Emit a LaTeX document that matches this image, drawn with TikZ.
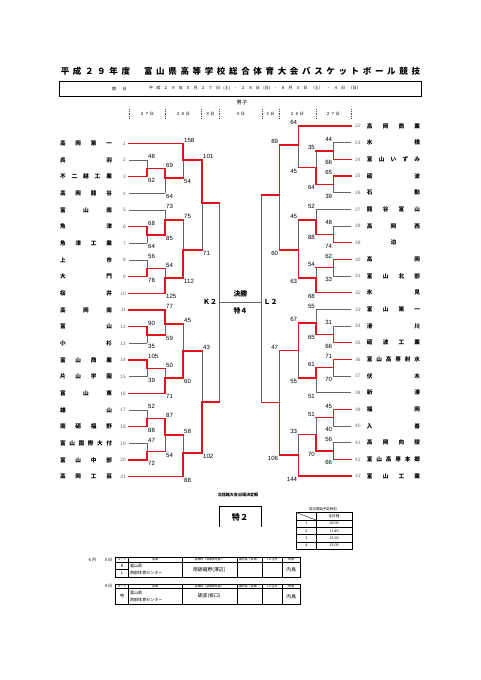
\documentclass[tikz,border=0pt]{standalone}
\usepackage{fontspec}
\setmainfont{Liberation Sans}
\newfontfamily\jp{Noto Sans CJK JP}
\newfontfamily\serifnum{Liberation Serif}
\definecolor{winred}{RGB}{228,18,26}
\definecolor{losegray}{RGB}{100,100,100}

% match lists: match/top/bottom/winner/next/top score/bottom score
\def\leftm{a1121/a1116/a1721/a1721/k2/43/102,
  a110/a14/a510/a14/k2/101/71,
  a1721/a1720/t21/t21/a1121/58/88,
  a1116/a1113/a1416/a1416/a1121/45/60,
  a510/a567/a810/a810/a110/75/112,
  a14/t1/a234/t1/a110/158/54,
  a1720/a1718/a1920/a1718/a1721/87/54,
  a1416/a1415/t16/t16/a1116/50/71,
  a1113/t11/a1213/t11/a1116/77/59,
  a810/a89/t10/t10/a510/54/125,
  a567/t5/a67/a67/a510/73/85,
  a234/a23/t4/a23/a14/69/64,
  a1920/t19/t20/t20/a1720/47/72,
  a1718/t17/t18/t18/a1720/52/88,
  a1415/t14/t15/t14/a1416/105/39,
  a1213/t12/t13/t12/a1113/90/35,
  a89/t8/t9/t9/a810/56/78,
  a67/t6/t7/t6/a567/68/64,
  a23/t2/t3/t3/a234/48/62}
\def\rightm{b3343/b3338/b3943/b3943/l2/47/106,
  b2232/b2226/b2732/b2226/l2/89/60,
  b3943/b3942/t43/t43/b3343/33/144,
  b3338/b3335/b3638/b3335/b3343/67/55,
  b2732/b2729/b3032/b3032/b2232/45/63,
  b2226/t22/b2326/t22/b2232/64/45,
  b3942/b3940/b4142/b4142/b3943/51/70,
  b3638/b3637/t38/b3637/b3338/61/51,
  b3335/t33/b3435/b3435/b3338/55/65,
  b3032/b3031/t32/t32/b2732/54/68,
  b2729/t27/b2829/b2829/b2732/52/88,
  b2326/b2324/b2526/b2526/b2226/35/64,
  b4142/t41/t42/t42/b3942/56/66,
  b3940/t39/t40/t39/b3942/45/40,
  b3637/t36/t37/t36/b3638/71/70,
  b3435/t34/t35/t35/b3335/31/66,
  b3031/t30/t31/t30/b3032/62/33,
  b2829/t28/t29/t29/b2729/48/74,
  b2526/t25/t26/t25/b2326/65/39,
  b2324/t23/t24/t24/b2326/44/66}

\begin{document}
\begin{tikzpicture}[x=1.237pt, y=-1.237pt,
  lose/.style={draw=losegray, line width=0.7pt},
  win/.style={draw=winred, line width=1.6pt, line cap=rect},
  tname/.style={font=\jp\bfseries\fontsize{7}{7}\selectfont, inner sep=0pt},
  tnum/.style={font=\fontsize{6}{6}\selectfont, text=black!60, inner sep=0pt},
  tseed/.style={font=\fontsize{6}{6}\selectfont\itshape, text=black!60, inner sep=0pt},
  score/.style={font=\fontsize{7.5}{7.5}\selectfont, inner sep=1.3pt},
  big/.style={font=\jp\bfseries\fontsize{8.5}{9}\selectfont, inner sep=0pt},
  small/.style={font=\jp\fontsize{5}{5}\selectfont, inner sep=0pt},
  tiny/.style={font=\jp\fontsize{3.6}{3.6}\selectfont, inner sep=0pt},
  sep/.style={draw=black!70, line width=0.5pt, dash pattern=on 1.2pt off 1pt},
  frame/.style={draw=black, line width=0.9pt},
  rule/.style={draw=black, line width=0.45pt}]

\useasboundingbox (0,0) rectangle (481,680);

% heading
\node[font=\jp\bfseries\fontsize{10.5}{11}\selectfont, inner sep=0pt] (ttl) at (240.4,71)
  {\makebox[85.7pt][s]{平 成 ２ ９ 年 度}\hspace{17.3pt}\makebox[341.4pt][s]{富 山 県 高 等 学 校 総 合 体 育 大 会 バ ス ケ ッ ト ボ ー ル 競 技}};
\draw[frame] (59,81) rectangle (421,96);
\node[small] (kijitsu) at (119.5,88.5) {\makebox[18pt][s]{期 日}};
\node[small] (dates) at (254.9,88.5) {\makebox[262pt][s]{平 成 ２ ９ 年 ５ 月 ２ ７ 日 (土) ・ ２ ８ 日 (日) ・ ６ 月 ３ 日 （土） ・ ４ 日 （日）}};
\node[font=\jp\fontsize{6.5}{7}\selectfont, inner sep=0pt] (boys) at (242,103) {男子};

% day row
\foreach \x in {129,165,201,219,262,279,316,351}
  \draw[sep] (\x,109) -- (\x,119);
\foreach \x/\d [count=\k] in {147/２ ７ 日,183/２ ８ 日,210/３ 日,240.4/４ 日,270/３ 日,297/２ ８ 日,333/２ ７ 日}
  \node[small] (day\k) at (\x,114) {\d};

% match points
\coordinate (a23) at (147,168.33);
\coordinate (a234) at (165,178);
\coordinate (a14) at (183,160);
\coordinate (a67) at (147,235);
\coordinate (a567) at (165,220);
\coordinate (a89) at (147,268.33);
\coordinate (a810) at (165,278);
\coordinate (a510) at (183,250);
\coordinate (a110) at (202,203);
\coordinate (a1213) at (147,335);
\coordinate (a1113) at (165,324);
\coordinate (a1415) at (147,368.33);
\coordinate (a1416) at (165,378);
\coordinate (a1116) at (183,351);
\coordinate (a1718) at (147,418.33);
\coordinate (a1920) at (147,451.67);
\coordinate (a1720) at (165,435);
\coordinate (a1721) at (183,453);
\coordinate (a1121) at (202,402);
\coordinate (k2) at (219,302);

\coordinate (b2324) at (333.3,151);
\coordinate (b2526) at (333.3,184.33);
\coordinate (b2326) at (316,167.7);
\coordinate (b2226) at (298.3,145);
\coordinate (b2829) at (333.3,234.33);
\coordinate (b2729) at (316,220);
\coordinate (b3031) at (333.3,267.67);
\coordinate (b3032) at (316,278);
\coordinate (b2732) at (298.3,250);
\coordinate (b2232) at (279.3,195);
\coordinate (b3435) at (333.3,334.33);
\coordinate (b3335) at (316,323);
\coordinate (b3637) at (333.3,367.67);
\coordinate (b3638) at (316,378);
\coordinate (b3338) at (298.3,350.5);
\coordinate (b3940) at (333.3,417.67);
\coordinate (b4142) at (333.3,451);
\coordinate (b3942) at (316,434.3);
\coordinate (b3943) at (298.3,455);
\coordinate (b3343) at (279.3,402.7);
\coordinate (l2) at (261.7,302);

% team line ends
\foreach \i in {1,...,21}
  \coordinate (t\i) at (129,{143.33+16.667*(\i-1)});
\foreach \i in {22,...,43}
  \coordinate (t\i) at (351,{126+16.667*(\i-22)});

% final
\draw[lose] (k2 |- a110) -- (k2 |- a1121);
\draw[lose] (l2 |- b2232) -- (l2 |- b3343);
\draw[lose] (k2) -- (l2);
\node[big] (kk) at (210,302) {Ｋ２};
\node[big] (ll) at (270.5,302) {Ｌ２};
\node[big] (fin) at (240.4,293.5) {決勝};
\node[big] (toku4) at (240.4,311) {特４};

% left bracket
\foreach \m/\tp/\bt/\w/\nx/\st/\sb in \leftm {
  \draw[lose] (\m |- \tp) -- (\m |- \bt);
  \draw[win] (\m |- \w) -- (\m) -- (\m -| \nx);
  \node[score, anchor=south west] (st\m) at (\m |- \tp) {\st};
  \node[score, anchor=north west] (sb\m) at (\m |- \bt) {\sb};
}
% right bracket
\foreach \m/\tp/\bt/\w/\nx/\st/\sb in \rightm {
  \draw[lose] (\m |- \tp) -- (\m |- \bt);
  \draw[win] (\m |- \w) -- (\m) -- (\m -| \nx);
  \node[score, anchor=south east] (st\m) at (\m |- \tp) {\st};
  \node[score, anchor=north east] (sb\m) at (\m |- \bt) {\sb};
}

% teams
\foreach \i/\name/\tg/\ls/\ns in {
  1/高 岡 第 一/a14/win/tseed, 2/呉 羽/a23/lose/tnum,
  3/不 二 越 工 業/a23/win/tnum, 4/高 岡 龍 谷/a234/lose/tnum,
  5/富 山 南/a567/lose/tnum, 6/魚 津/a67/win/tnum,
  7/魚 津 工 業/a67/lose/tnum, 8/上 市/a89/lose/tnum,
  9/大 門/a89/win/tnum, 10/桜 井/a810/win/tseed,
  11/高 岡 南/a1113/win/tseed, 12/富 山/a1213/win/tnum,
  13/小 杉/a1213/lose/tnum, 14/富 山 商 業/a1415/win/tnum,
  15/片 山 学 園/a1415/lose/tnum, 16/富 山 東/a1416/win/tnum,
  17/雄 山/a1718/lose/tnum, 18/南 砺 福 野/a1718/win/tnum,
  19/富 山 国 際 大 付/a1920/lose/tnum, 20/富 山 中 部/a1920/win/tnum,
  21/高 岡 工 芸/a1721/win/tseed} {
  \draw[\ls] (t\i) -- (t\i -| \tg);
  \path (t\i) ++(-43,0) node[tname] (nm\i) {\makebox[64.3pt][s]{\name}};
  \path (t\i) ++(-3,0) node[\ns, anchor=east] (no\i) {\i};
}
\foreach \i/\name/\tg/\ls/\ns in {
  22/高 岡 商 業/b2226/win/tseed, 23/水 橋/b2324/lose/tnum,
  24/富 山 い ず み/b2324/win/tnum, 25/砺 波/b2526/win/tnum,
  26/石 動/b2526/lose/tnum, 27/龍 谷 富 山/b2729/lose/tnum,
  28/高 岡 西/b2829/lose/tnum, 29/\hfil 泊\hfil/b2829/win/tnum,
  30/高 岡/b3031/win/tnum, 31/富 山 北 部/b3031/lose/tnum,
  32/氷 見/b3032/win/tseed, 33/富 山 第 一/b3335/lose/tseed,
  34/滑 川/b3435/lose/tnum, 35/砺 波 工 業/b3435/win/tnum,
  36/富 山 高 専 射 水/b3637/win/tnum, 37/伏 木/b3637/lose/tnum,
  38/新 湊/b3638/lose/tnum, 39/福 岡/b3940/win/tnum,
  40/入 善/b3940/lose/tnum, 41/高 岡 向 陵/b4142/lose/tnum,
  42/富 山 高 専 本 郷/b4142/win/tnum, 43/富 山 工 業/b3943/win/tseed} {
  \draw[\ls] (t\i) -- (t\i -| \tg);
  \path (t\i) ++(42.5,0) node[tname] (nm\i) {\makebox[65.6pt][s]{\name}};
  \path (t\i) ++(4,0) node[\ns, anchor=west] (no\i) {\i};
}

% Hokushinetsu playoff
\node[font=\jp\bfseries\fontsize{5}{5}\selectfont, inner sep=0pt] (hsn) at (238,495) {北信越大会出場決定戦};
\draw[frame] (219,527) |- (261,506) -- (261,527);
\node[font=\jp\bfseries\fontsize{10}{10}\selectfont, inner sep=0pt] (toku2) at (240,517.5) {特２};

% start times
\node[tiny, font=\jp\fontsize{4.3}{4.3}\selectfont] (jikoku) at (323,509) {試合開始予定時刻};
\draw[frame] (296.7,512.7) rectangle (352,549);
\draw[rule] (316,512.7) -- (316,549);
\draw[rule] (296.7,512.7) -- (316,520);
\foreach \y in {520,527.2,534.5,541.8}
  \draw[rule] (296.7,\y) -- (352,\y);
\node[tiny, font=\jp\fontsize{4.5}{4.5}\selectfont] (zen) at (334,516.4) {全日程};
\foreach \k/\t/\y in {1/10:00/523.6,2/11:40/530.9,3/13:20/538.2,4/15:00/545.4} {
  \node[font=\serifnum\fontsize{5}{5}\selectfont, inner sep=0pt] (gm\k) at (306.3,\y) {\k};
  \node[font=\serifnum\fontsize{5}{5}\selectfont, inner sep=0pt] (tm\k) at (334,\y) {\t};
}

% officials, 6/3
\node[small] (jun) at (92,560) {６月};
\node[small] (d3) at (108,560) {３日};
\draw[frame] (115.7,557.7) rectangle (300.7,577.3);
\draw[frame] (115.7,562) -- (300.7,562);
\draw[rule] (115.7,569.6) -- (128.5,569.6);
\foreach \x in {128.5,181.7,236.7,261.7,282}
  \draw[rule] (\x,557.7) -- (\x,577.3);
\foreach \x/\t [count=\k] in {122.1/コート,155.1/会場,209.2/会場校（会場責任者）,249.2/審判長（会場）,271.9/ＴＯ主任,291.3/総務}
  \node[tiny] (ha\k) at (\x,559.85) {\t};
\node[small] (ck) at (122.1,565.8) {Ｋ};
\node[small] (cl) at (122.1,573.5) {Ｌ};
\node[small, anchor=west] (v1a) at (130,566) {富山県};
\node[small, anchor=west] (v1b) at (130,573.4) {西部体育センター};
\node[font=\jp\fontsize{6}{6}\selectfont, inner sep=0pt] (host1) at (209.2,569.6) {南砺福野(澤辺)};
\node[font=\jp\fontsize{6}{6}\selectfont, inner sep=0pt] (gen1) at (291.3,569.6) {内島};

% officials, 6/4
\node[small] (d4) at (108,586.3) {４日};
\draw[frame] (115.7,584.3) rectangle (300.7,604.3);
\draw[frame] (115.7,588.3) -- (300.7,588.3);
\foreach \x in {128.5,181.7,236.7,261.7,282}
  \draw[rule] (\x,584.3) -- (\x,604.3);
\foreach \x/\t [count=\k] in {122.1/コート,155.1/会場,209.2/会場校（会場責任者）,249.2/審判長（会場）,271.9/ＴＯ主任,291.3/総務}
  \node[tiny] (hb\k) at (\x,586.3) {\t};
\node[small] (ct) at (122.1,596.3) {特};
\node[small, anchor=west] (v2a) at (130,592.6) {富山県};
\node[small, anchor=west] (v2b) at (130,600) {西部体育センター};
\node[font=\jp\fontsize{6}{6}\selectfont, inner sep=0pt] (host2) at (209.2,596.3) {砺波(板口)};
\node[font=\jp\fontsize{6}{6}\selectfont, inner sep=0pt] (gen2) at (291.3,596.3) {内島};

\end{tikzpicture}
\end{document}
